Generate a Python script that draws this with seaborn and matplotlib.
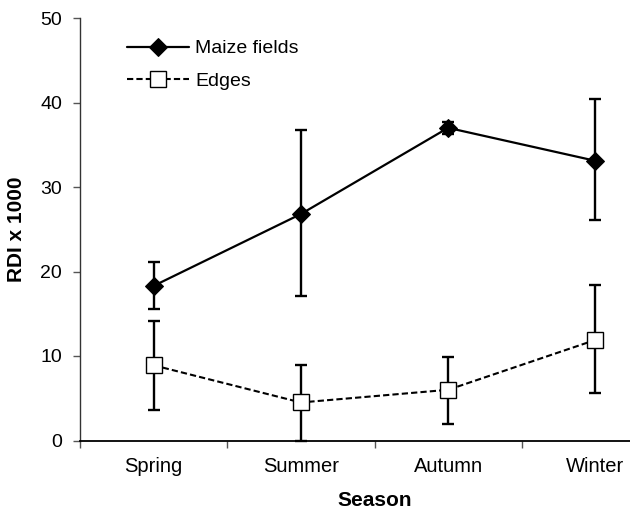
import matplotlib
matplotlib.use("Agg")
import matplotlib.pyplot as plt
import seaborn as sns
import numpy as np
import pandas as pd

seasons = ["Spring", "Summer", "Autumn", "Winter"]
maize = [18.3, 26.8, 37.0, 33.1]
maize_lo = [15.6, 17.1, 36.3, 26.1]
maize_hi = [21.1, 36.7, 37.7, 40.4]
edges = [8.9, 4.5, 6.0, 11.9]
edges_lo = [3.6, 0.0, 2.0, 5.6]
edges_hi = [14.1, 8.9, 9.9, 18.4]
yticks = [0, 10, 20, 30, 40, 50]

sns.set_theme(style="white")
plt.rcParams['font.family'] = ['Liberation Sans', 'DejaVu Sans']
plt.rcParams['text.color'] = 'black'
plt.rcParams['axes.labelcolor'] = 'black'
plt.rcParams['xtick.color'] = 'black'
plt.rcParams['ytick.color'] = 'black'

fig = plt.figure(figsize=(6.30, 5.09), dpi=100)
ax = fig.add_axes([80/630, 1 - 440.5/509, 589/630, (440.5-18)/509])

df = pd.DataFrame({"Season": seasons, "Maize": maize, "Edges": edges})
xpos = np.arange(len(seasons))

# error bars
ax.errorbar(xpos, maize, yerr=[np.array(maize) - np.array(maize_lo), np.array(maize_hi) - np.array(maize)],
            fmt='none', ecolor='black', elinewidth=1.7, capsize=4.5, capthick=1.7, zorder=2, clip_on=False)
ax.errorbar(xpos, edges, yerr=[np.array(edges) - np.array(edges_lo), np.array(edges_hi) - np.array(edges)],
            fmt='none', ecolor='black', elinewidth=1.7, capsize=4.5, capthick=1.7, zorder=2, clip_on=False)

sns.lineplot(data=df, x="Season", y="Maize", ax=ax, color='black', linewidth=1.6,
             marker='D', markersize=9, markerfacecolor='black', markeredgecolor='black',
             label="Maize fields", zorder=3, sort=False)
sns.lineplot(data=df, x="Season", y="Edges", ax=ax, color='black', linewidth=1.5,
             linestyle=(0, (3, 1.5)), marker='s', markersize=11, markerfacecolor='white',
             markeredgecolor='black', markeredgewidth=1.0,
             label="Edges", zorder=3, sort=False)

ax.set_xlim(-0.5, 3.5)
ax.set_ylim(0, 50)
ax.set_yticks(yticks)
ax.set_yticklabels([str(v) for v in yticks], fontsize=14)

ax.set_xticks([-0.5, 0.5, 1.5, 2.5, 3.5])
ax.set_xticklabels([])
ax.set_xticks(xpos, minor=True)
ax.set_xticklabels(seasons, minor=True, fontsize=14.5)
ax.tick_params(axis='x', which='minor', length=0, pad=12)
ax.tick_params(axis='x', which='major', direction='out', length=5, width=1, color='#555555', bottom=True)
ax.tick_params(axis='y', direction='out', length=5, width=1, color='#555555', left=True, pad=8)

for s in ['top', 'right']:
    ax.spines[s].set_visible(False)
ax.spines['left'].set_color('#333333')
ax.spines['left'].set_linewidth(1.0)
ax.spines['bottom'].set_color('black')
ax.spines['bottom'].set_linewidth(1.3)

ax.set_xlabel("Season", fontsize=15, fontweight='bold', labelpad=11)
ax.set_ylabel("RDI x 1000", fontsize=15, fontweight='bold', labelpad=10)

leg = ax.legend(loc='upper left', bbox_to_anchor=(0.05, 0.99), frameon=False, fontsize=14,
                handlelength=3.2, handletextpad=0.3, labelspacing=0.75)

fig.savefig("out.png", dpi=100)
